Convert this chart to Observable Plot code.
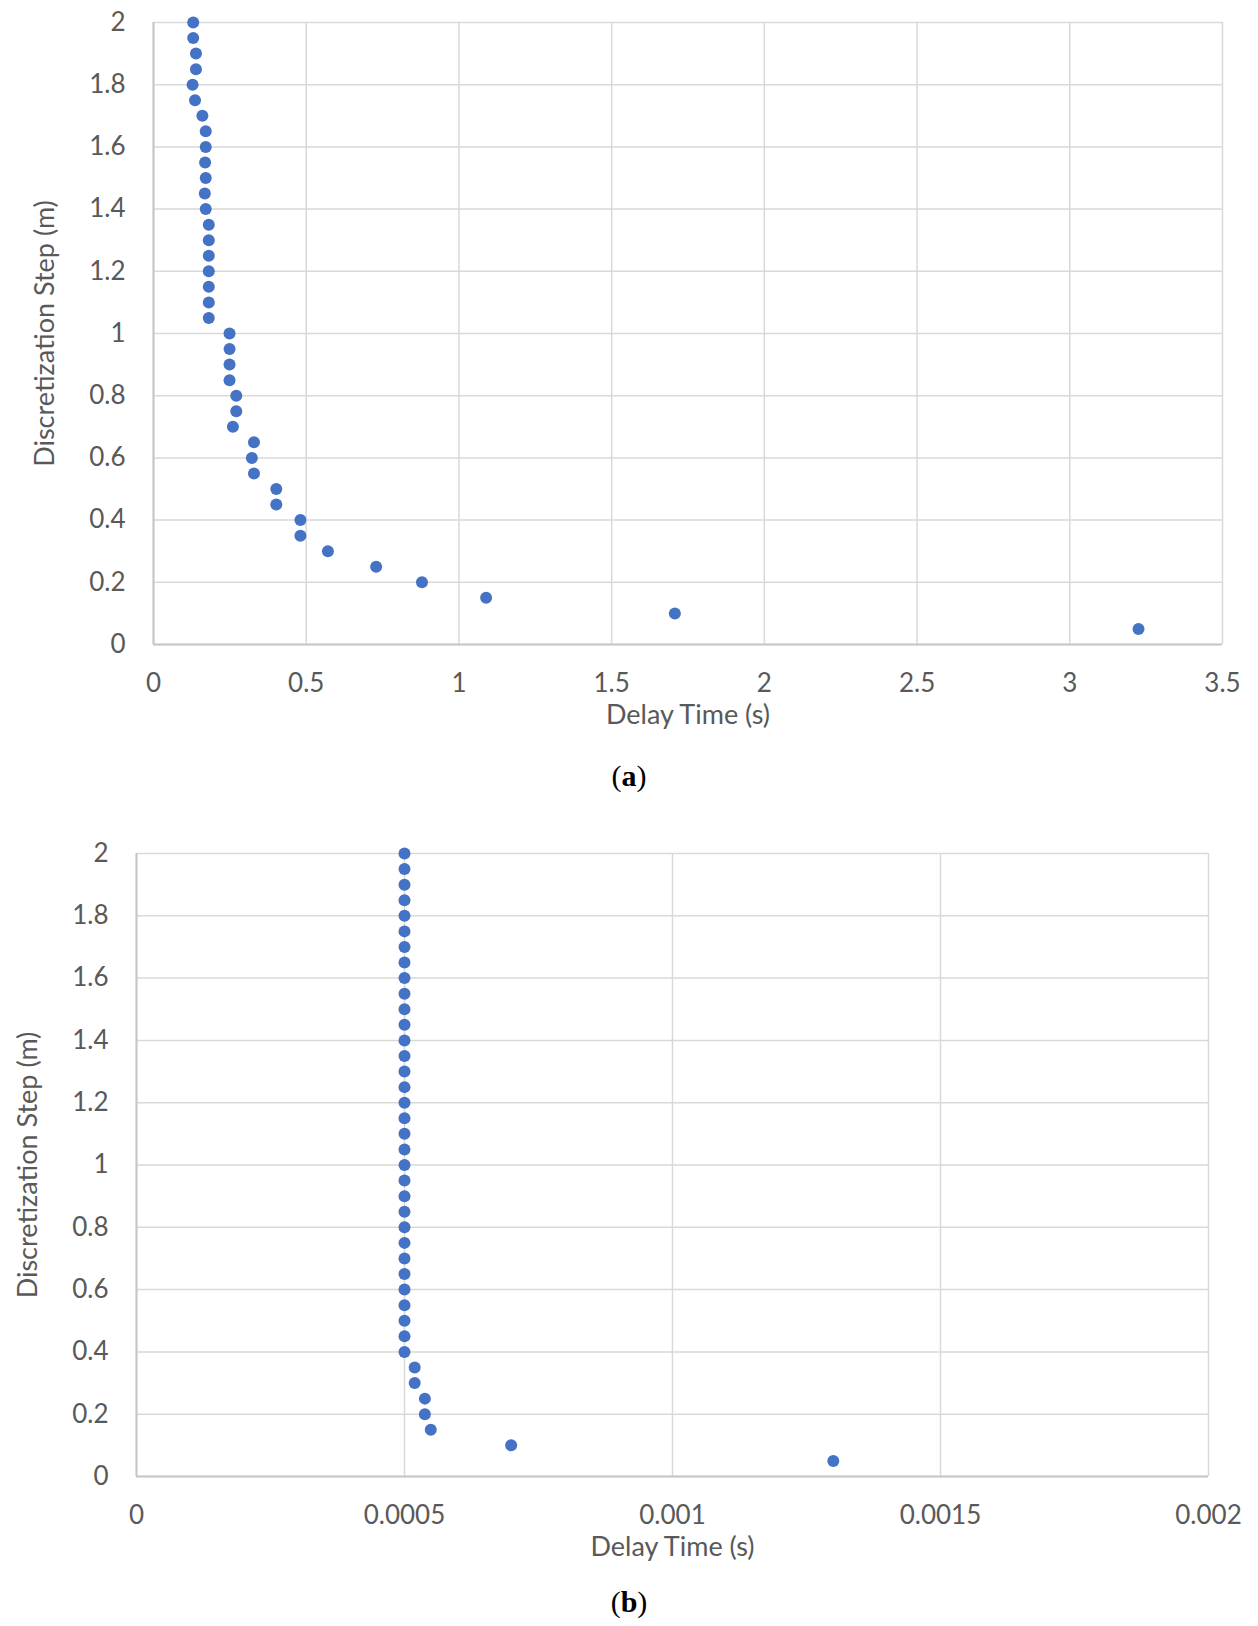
<!DOCTYPE html>
<html><head><meta charset="utf-8">
<script src="https://cdn.jsdelivr.net/npm/d3@7"></script>
<script src="https://cdn.jsdelivr.net/npm/@observablehq/plot@0.6"></script>
<style>
body{margin:0;background:#fff;width:1258px;height:1626px;position:relative;overflow:hidden}
.panel{position:absolute;left:0}
.cap{position:absolute;left:0;width:1258px;text-align:center;font-family:"Liberation Serif","DejaVu Serif",serif;font-size:30px;line-height:36px;color:#000}
</style></head><body>
<div id="a" class="panel" style="top:0"></div>
<div class="cap" style="top:758px">(<b>a</b>)</div>
<div id="b" class="panel" style="top:820px"></div>
<div class="cap" style="top:1584px">(<b>b</b>)</div>
<script>
// Discretization steps (m), shared by both panels
const steps = [2.00,1.95,1.90,1.85,1.80,1.75,1.70,1.65,1.60,1.55,1.50,1.45,1.40,1.35,1.30,1.25,1.20,1.15,1.10,1.05,
               1.00,0.95,0.90,0.85,0.80,0.75,0.70,0.65,0.60,0.55,0.50,0.45,0.40,0.35,0.30,0.25,0.20,0.15,0.10,0.05];
// Panel (a) delay time (s)
const delayA = [0.130,0.130,0.139,0.139,0.128,0.136,0.160,0.171,0.171,0.169,0.171,0.168,0.171,0.181,0.181,0.181,0.181,0.181,0.181,0.181,
                0.249,0.249,0.249,0.249,0.271,0.271,0.260,0.329,0.322,0.329,0.402,0.402,0.481,0.481,0.571,0.729,0.879,1.089,1.707,3.225];
// Panel (b) delay time (s)
const delayB = [0.0005,0.0005,0.0005,0.0005,0.0005,0.0005,0.0005,0.0005,0.0005,0.0005,0.0005,0.0005,0.0005,0.0005,0.0005,0.0005,0.0005,0.0005,0.0005,0.0005,
                0.0005,0.0005,0.0005,0.0005,0.0005,0.0005,0.0005,0.0005,0.0005,0.0005,0.0005,0.0005,0.0005,0.000519,0.000519,0.000538,0.000538,0.000549,0.000699,0.0013];
const yTicks = [0,0.2,0.4,0.6,0.8,1,1.2,1.4,1.6,1.8,2];
const xTicksA = [0,0.5,1,1.5,2,2.5,3,3.5];
const xTicksB = [0,0.0005,0.001,0.0015,0.002];
const xTitle = "Delay Time (s)";
const yTitle = "Discretization Step (m)";

const dataA = steps.map((s,i)=>({step:s, delay:delayA[i]}));
const dataB = steps.map((s,i)=>({step:s, delay:delayB[i]}));

function chart(data, xTicks, m) {
  const grid = {stroke:"#d9d9d9", strokeOpacity:1, strokeWidth:1.5};
  return Plot.plot({
    width:1258, height:m.height,
    marginTop:m.top, marginBottom:m.bottom, marginLeft:m.left, marginRight:m.right,
    style:{fontFamily:"Lato, 'Open Sans', sans-serif", fontSize:"26px", color:"#595959", background:"white", overflow:"visible"},
    x:{domain:[xTicks[0], xTicks[xTicks.length-1]]},
    y:{domain:[0,2]},
    marks:[
      Plot.gridX(xTicks, grid),
      Plot.gridY(yTicks, grid),
      Plot.ruleX([xTicks[0]], {stroke:"#c6c6c6", strokeWidth:2}),
      Plot.ruleY([0], {stroke:"#c6c6c6", strokeWidth:2}),
      Plot.axisX(xTicks, {tickSize:0, tickPadding:29, tickFormat:d=>String(d), label:null, fontSize:26}),
      Plot.axisY(yTicks, {tickSize:0, tickPadding:28, tickFormat:d=>String(d), label:null, fontSize:26}),
      Plot.dot(data, {x:"delay", y:"step", r:6, fill:"#4472C4", stroke:null}),
      Plot.text([xTitle], {frameAnchor:"bottom", dy:71, text:d=>d, fontSize:27, fill:"#595959", textAnchor:"middle", lineAnchor:"middle"}),
      Plot.text([yTitle], {frameAnchor:"left", dx:-108, rotate:-90, text:d=>d, fontSize:27, fill:"#595959", textAnchor:"middle", lineAnchor:"middle"})
    ]
  });
}

document.getElementById("a").append(chart(dataA, xTicksA, {height:750, top:22, bottom:106, left:153, right:36}));
document.getElementById("b").append(chart(dataB, xTicksB, {height:740, top:33, bottom:84, left:136, right:50}));
</script>
</body></html>
